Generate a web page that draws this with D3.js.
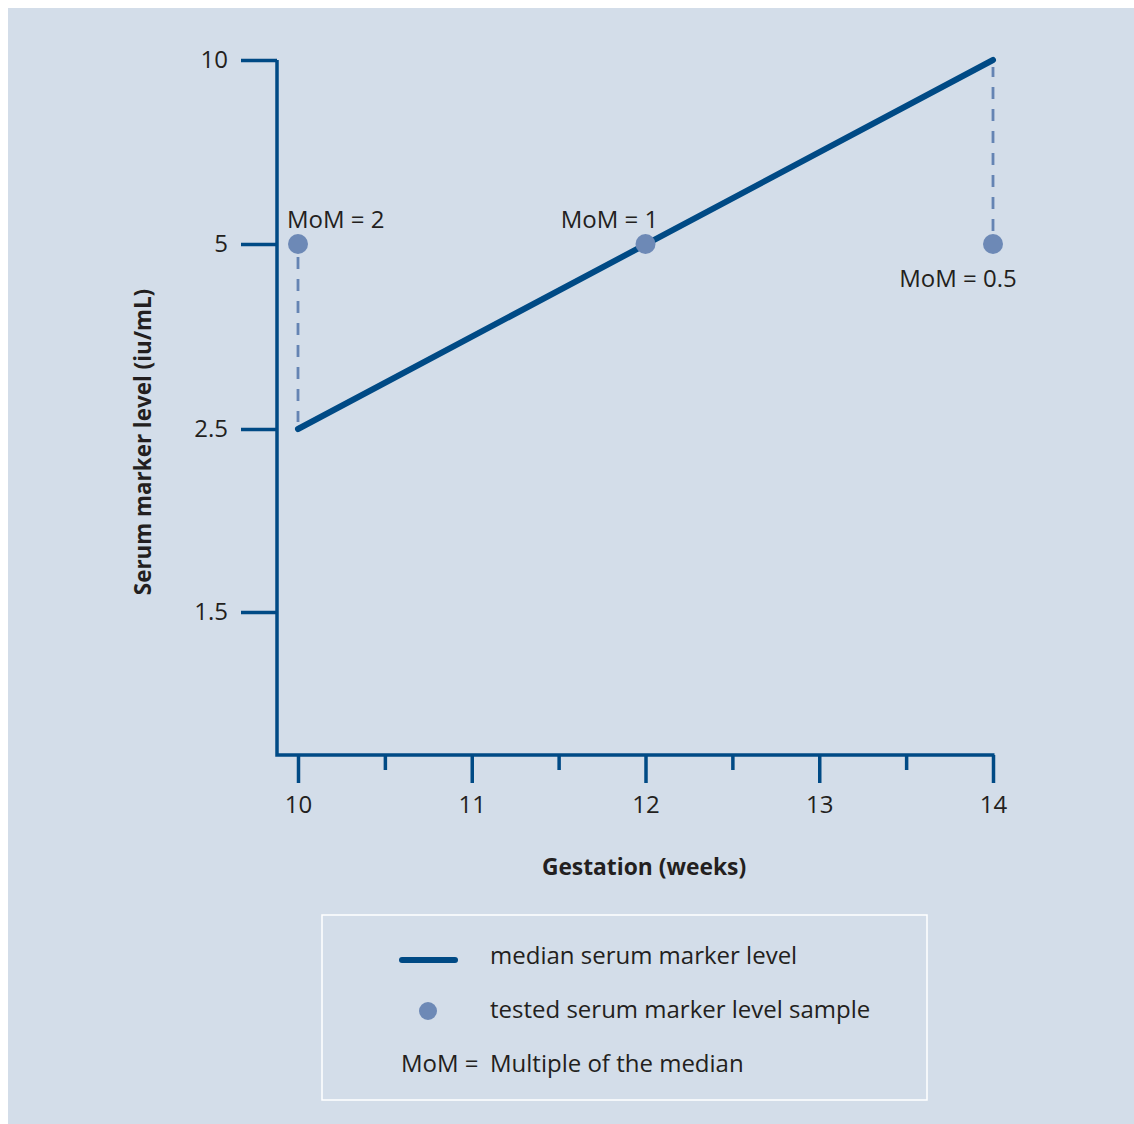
<!DOCTYPE html>
<html><head><meta charset="utf-8">
<script src="https://cdn.jsdelivr.net/npm/d3@7"></script>
<style>
body{margin:0;background:#fff;}
text{font-family:"Open Sans",sans-serif;fill:#231f20;}
</style></head><body>
<svg id="c" width="1134" height="1124"></svg>
<script>
// ---- data ----
const medianWeeks = [10, 14];
const medianLevels = [2.5, 10];
const sampleWeeks = [10, 12, 14];
const sampleLevels = [5, 5, 5];
const sampleLabels = ["MoM = 2", "MoM = 1", "MoM = 0.5"];
const yTicks = [10, 5, 2.5, 1.5];
const xTicks = [10, 10.5, 11, 11.5, 12, 12.5, 13, 13.5, 14];
const legendItems = ["median serum marker level", "tested serum marker level sample", "Multiple of the median"];

const svg = d3.select("#c");
const dark = "#004a85", dot = "#6d89b6", fontSize = 24;

svg.append("rect").attr("x",8).attr("y",8).attr("width",1126).attr("height",1116).attr("fill","#d3dde9");

const x = d3.scaleLinear().domain([10,14]).range([298,993]);
// evenly spaced tick levels (piecewise linear)
const y = d3.scaleLinear().domain([1.5,2.5,5,10]).range([612,429,244,60]);
const axisX0 = 277, axisY0 = 755;

// Y axis
const ya = svg.append("g").attr("transform",`translate(${axisX0},0)`)
  .call(d3.axisLeft(y).tickValues(yTicks).tickSize(36).tickPadding(13).tickSizeOuter(0).tickFormat(d=>String(d)));
ya.select(".domain").remove();
ya.selectAll(".tick line").attr("stroke",dark).attr("stroke-width",3.5);
ya.selectAll(".tick text").attr("font-size",fontSize).attr("font-family","Open Sans").attr("fill","#231f20");

// X axis
const xa = svg.append("g").attr("transform",`translate(0,${axisY0})`)
  .call(d3.axisBottom(x).tickValues(xTicks).tickSize(28).tickPadding(13).tickSizeOuter(0)
    .tickFormat(d=>Number.isInteger(d)?String(d):""));
xa.select(".domain").remove();
xa.selectAll(".tick line").attr("stroke",dark).attr("stroke-width",3.5)
  .attr("y2",d=>Number.isInteger(d)?28:15);
xa.selectAll(".tick text").attr("font-size",fontSize).attr("font-family","Open Sans").attr("fill","#231f20");

// axis lines
svg.append("path").attr("d",`M${axisX0},${y(10)}V${axisY0}H${x(14)+1.5}`)
  .attr("fill","none").attr("stroke",dark).attr("stroke-width",3.5).attr("stroke-linejoin","miter");

// dashed connectors (from sample dot to the median line)
const dashPairs = [[sampleWeeks[0], sampleLevels[0], medianLevels[0]],[sampleWeeks[2], sampleLevels[2], medianLevels[1]]];
svg.selectAll("line.dash").data(dashPairs).join("line").attr("class","dash")
  .attr("x1",d=>x(d[0])).attr("x2",d=>x(d[0]))
  .attr("y1",d=>{const s=Math.sign(y(d[2])-y(d[1])); return y(d[1])+s*13;})
  .attr("y2",d=>{const s=Math.sign(y(d[2])-y(d[1])); return y(d[2])-s*7;})
  .attr("stroke","#6584b3").attr("stroke-width",2.8).attr("stroke-dasharray","12,10");

// median line
svg.append("path").datum(medianWeeks.map((w,i)=>[w,medianLevels[i]]))
  .attr("d",d3.line().x(d=>x(d[0])).y(d=>y(d[1])))
  .attr("fill","none").attr("stroke",dark).attr("stroke-width",6).attr("stroke-linecap","round");

// sample points
svg.selectAll("circle.s").data(sampleWeeks.map((w,i)=>({w,v:sampleLevels[i],l:sampleLabels[i]}))).join("circle")
  .attr("class","s").attr("cx",d=>x(d.w)).attr("cy",d=>y(d.v)).attr("r",10).attr("fill",dot);

// annotations
const ann = [{dx:-11, dy:-16, anchor:"start"},{dx:-36, dy:-16, anchor:"middle"},{dx:-35, dy:43, anchor:"middle"}];
svg.selectAll("text.ann").data(sampleWeeks.map((w,i)=>({w,v:sampleLevels[i],l:sampleLabels[i],a:ann[i]}))).join("text")
  .attr("class","ann").attr("x",d=>x(d.w)+d.a.dx).attr("y",d=>y(d.v)+d.a.dy)
  .attr("text-anchor",d=>d.a.anchor).attr("font-size",fontSize).text(d=>d.l);

// axis titles
svg.append("text").attr("x",644).attr("y",875).attr("text-anchor","middle")
  .attr("font-size",22.8).attr("font-weight","bold").text("Gestation (weeks)");
svg.append("text").attr("transform","translate(151,442) rotate(-90)").attr("text-anchor","middle")
  .attr("font-size",22.4).attr("font-weight","bold").text("Serum marker level (iu/mL)");

// legend
svg.append("rect").attr("x",322).attr("y",915).attr("width",605).attr("height",185)
  .attr("fill","none").attr("stroke","#ffffff").attr("stroke-width",1.5);
svg.append("line").attr("x1",402).attr("x2",455).attr("y1",960).attr("y2",960)
  .attr("stroke",dark).attr("stroke-width",6).attr("stroke-linecap","round");
svg.append("circle").attr("cx",428).attr("cy",1011).attr("r",9).attr("fill",dot);
svg.selectAll("text.leg").data(legendItems).join("text").attr("class","leg")
  .attr("x",490).attr("y",(d,i)=>964+i*54).attr("font-size",fontSize).text(d=>d);
svg.append("text").attr("x",401).attr("y",1072).attr("font-size",fontSize).text("MoM =");
</script></body></html>
